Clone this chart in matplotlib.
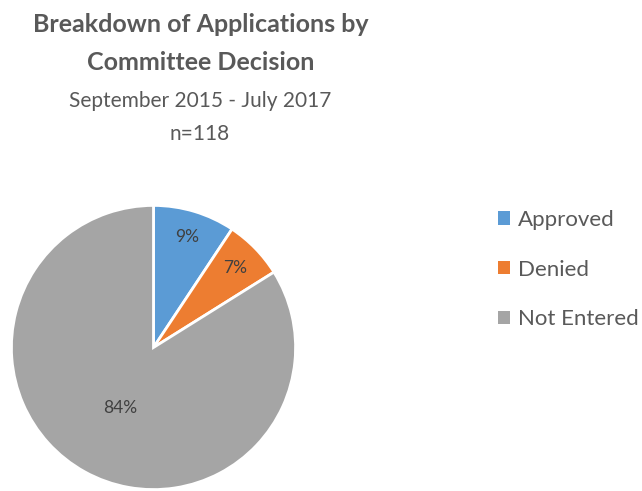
import numpy as np
import matplotlib
matplotlib.use("Agg")
import matplotlib.pyplot as plt
from matplotlib.patches import Patch

plt.rcParams['font.family'] = ['Lato', 'DejaVu Sans']

# data
labels = ["Approved", "Denied", "Not Entered"]
counts = [11, 8, 99]
colors = ["#5B9BD5", "#ED7D31", "#A5A5A5"]
label_dist = [0.81, 0.80, 0.49]

fig = plt.figure(figsize=(6.42, 4.91), dpi=100)

# titles
fig.text(201 / 642, 1 - 24 / 491, "Breakdown of Applications by", ha="center", va="center",
         fontsize=18, fontweight="bold", color="#595959")
fig.text(201 / 642, 1 - 63 / 491, "Committee Decision", ha="center", va="center",
         fontsize=18, fontweight="bold", color="#595959")
fig.text(200 / 642, 1 - 101 / 491, "September 2015 - July 2017", ha="center", va="center",
         fontsize=15, color="#595959")
fig.text(200 / 642, 1 - 134 / 491, "n=118", ha="center", va="center",
         fontsize=15, color="#595959")

# pie
ax = fig.add_axes([10 / 642, 0, 287 / 642, 287 / 491])
wedges, _ = ax.pie(counts, colors=colors, startangle=90, counterclock=False,
                   wedgeprops=dict(edgecolor="white", linewidth=2))
total = sum(counts)
for w, c, d in zip(wedges, counts, label_dist):
    mid = np.deg2rad((w.theta1 + w.theta2) / 2)
    ax.text(d * np.cos(mid), d * np.sin(mid), f"{c / total:.0%}", ha="center", va="center",
            fontsize=12.5, color="#404040")
ax.set_xlim(-1.01, 1.01)
ax.set_ylim(-1.01, 1.01)
ax.set_aspect("equal")
ax.axis("off")

# legend
handles = [Patch(facecolor=c, edgecolor="none") for c in colors]
fig.legend(handles, labels, loc="upper left", bbox_to_anchor=(478 / 642, 1 - 190 / 491),
           frameon=False, fontsize=16, labelcolor="#595959", handlelength=0.55, handleheight=0.55,
           handletextpad=0.35, labelspacing=1.33)

fig.savefig("out.png", dpi=100)
